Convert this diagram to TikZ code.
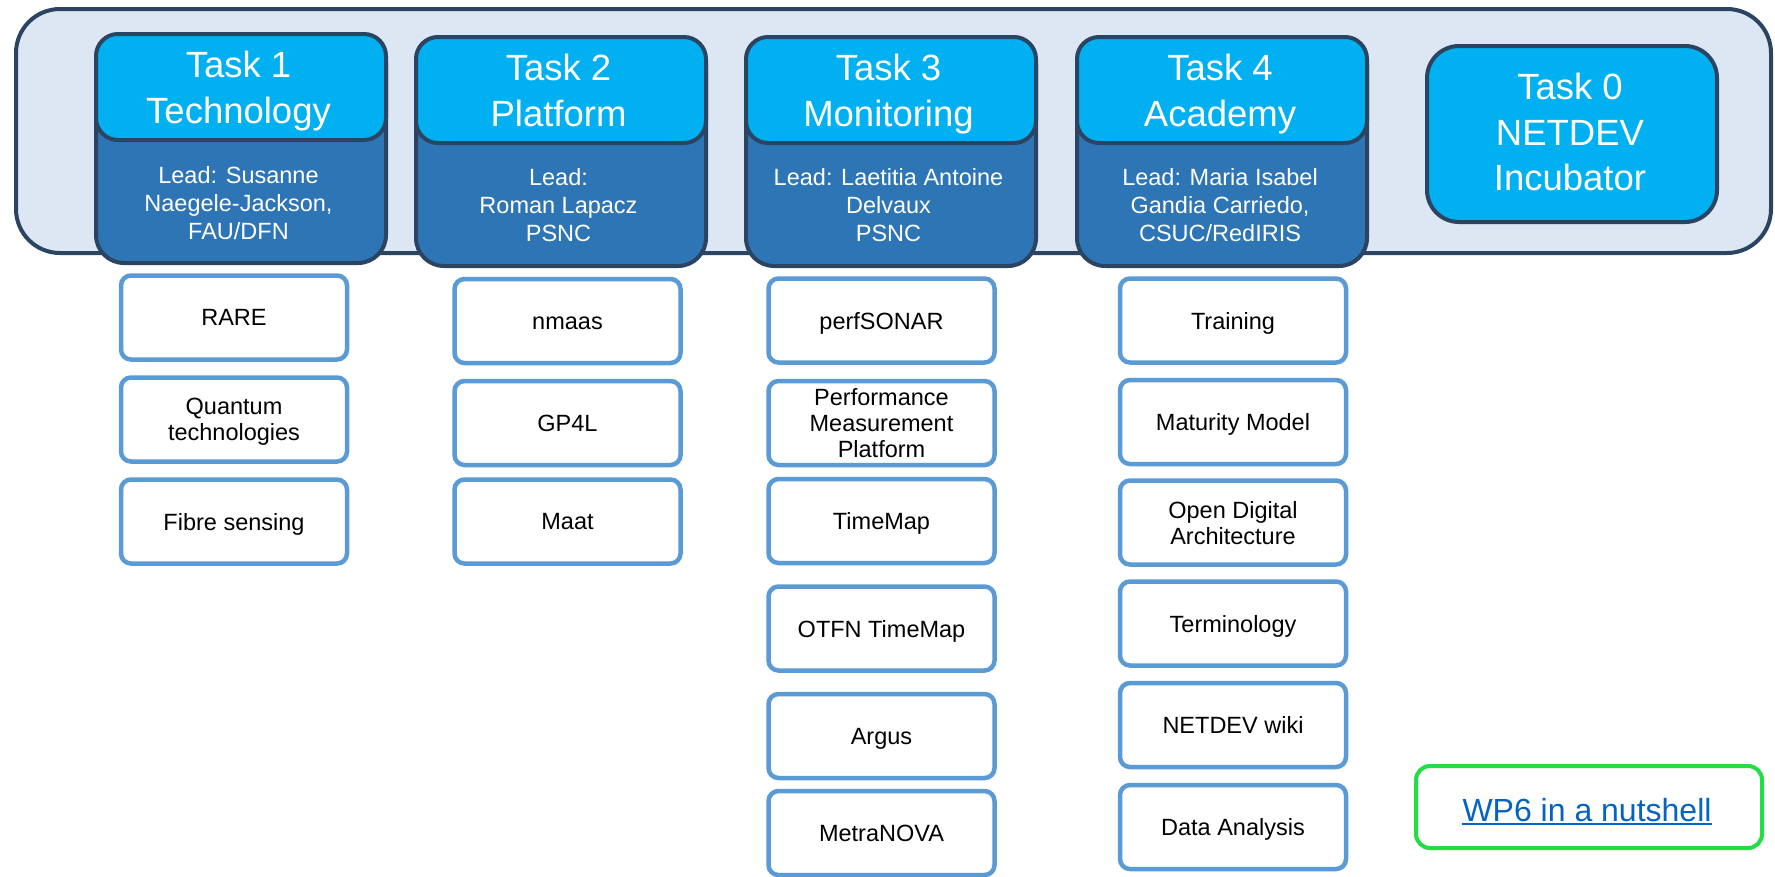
\documentclass[tikz,border=0pt]{standalone}
\usepackage{fontspec}
\setmainfont{Liberation Sans}
\definecolor{outerfill}{HTML}{DDE7F3}
\definecolor{navy}{HTML}{2A4461}
\definecolor{cyanb}{HTML}{00B0F0}
\definecolor{midb}{HTML}{2E75B6}
\definecolor{subb}{HTML}{5B9BD5}
\definecolor{greenb}{HTML}{22DD44}
\definecolor{linkb}{HTML}{0563C1}
\begin{document}
\begin{tikzpicture}[x=1pt,y=-1pt,
  outerbox/.style={draw=navy,fill=outerfill,line width=4pt,rounded corners=44pt,inner sep=0pt,anchor=north west},
  taskdark/.style={draw=navy,fill=midb,line width=4pt,rounded corners=28pt,inner sep=0pt,anchor=north west,minimum width=290pt,minimum height=229pt},
  tasklight/.style={draw=navy,fill=cyanb,line width=4pt,rounded corners=22pt,inner sep=0pt,anchor=north west,minimum width=290pt,minimum height=106pt},
  taskzero/.style={draw=navy,fill=cyanb,line width=4pt,rounded corners=32pt,inner sep=0pt,anchor=north west,minimum width=290pt,minimum height=176pt},
  headtext/.style={text=white,inner sep=0pt,align=center,text depth=0pt,font=\fontsize{36.5}{46}\selectfont,execute at begin node={\rule{0pt}{26pt}}},
  zerotext/.style={text=white,inner sep=0pt,align=center,text depth=0pt,font=\fontsize{36.5}{45.5}\selectfont,execute at begin node={\rule{0pt}{26pt}}},
  leadtext/.style={text=white,inner sep=0pt,align=center,text depth=0pt,font=\fontsize{23.5}{28}\selectfont,execute at begin node={\rule{0pt}{16.5pt}}},
  subbox/.style={draw=subb,fill=white,line width=4.5pt,rounded corners=10pt,minimum width=226pt,minimum height=84pt,inner sep=0pt,align=center,text depth=0pt,font=\fontsize{23.5}{26}\selectfont,execute at begin node={\rule{0pt}{16.5pt}}},
  linkbox/.style={draw=greenb,fill=white,line width=4pt,rounded corners=14pt,inner sep=0pt,anchor=north west,minimum width=346pt,minimum height=82pt},
  linktext/.style={text=linkb,inner sep=0pt,font=\fontsize{32}{38}\selectfont}
]
\useasboundingbox (0,0) rectangle (1775,876);
\fill[white] (0,0) rectangle (1775,876);

% outer frame
\node[outerbox,minimum width=1755pt,minimum height=244pt] (frame) at (14,7) {};

% Task 1
\node[taskdark] (t1) at (94,32) {};
\node[tasklight] (t1h) at (94,32) {};
\node[headtext] (t1t) at (238.5,87.3) {Task 1\\Technology};
\node[leadtext] (t1l) at (238.5,202.5) {Lead: Susanne\\Naegele-Jackson,\\FAU/DFN};

% Task 2
\node[taskdark] (t2) at (414,35) {};
\node[tasklight] (t2h) at (414,35) {};
\node[headtext] (t2t) at (558.5,90) {Task 2\\Platform};
\node[leadtext] (t2l) at (558.5,204.8) {Lead:\\Roman Lapacz\\PSNC};

% Task 3
\node[taskdark] (t3) at (744,35) {};
\node[tasklight] (t3h) at (744,35) {};
\node[headtext] (t3t) at (888.5,90) {Task 3\\Monitoring};
\node[leadtext] (t3l) at (888.5,204.8) {Lead: Laetitia Antoine\\Delvaux\\PSNC};

% Task 4
\node[taskdark] (t4) at (1075,35) {};
\node[tasklight] (t4h) at (1075,35) {};
\node[headtext] (t4t) at (1220,90) {Task 4\\Academy};
\node[leadtext] (t4l) at (1220,204.8) {Lead: Maria Isabel\\Gandia Carriedo,\\CSUC/RedIRIS};

% Task 0
\node[taskzero] (t0) at (1425,44) {};
\node[zerotext] (t0t) at (1570,131.8) {Task 0\\NETDEV\\Incubator};

% column 1
\node[subbox] (rare) at (234,317.5) {RARE};
\node[subbox] (quant) at (234,419.5) {Quantum\\technologies};
\node[subbox] (fibre) at (234,521.5) {Fibre sensing};

% column 2
\node[subbox] (nmaas) at (567.5,321) {nmaas};
\node[subbox] (gp4l) at (567.5,423) {GP4L};
\node[subbox] (maat) at (567.5,521.5) {Maat};

% column 3
\node[subbox] (perf) at (881.5,320.5) {perfSONAR};
\node[subbox] (pmp) at (881.5,423) {Performance\\Measurement\\Platform};
\node[subbox] (tmap) at (881.5,521) {TimeMap};
\node[subbox] (otfn) at (881.5,628.5) {OTFN TimeMap};
\node[subbox] (argus) at (881.5,736) {Argus};
\node[subbox] (metra) at (881.5,833) {MetraNOVA};

% column 4
\node[subbox] (train) at (1233,320.5) {Training};
\node[subbox] (matur) at (1233,422) {Maturity Model};
\node[subbox] (oda) at (1233,522.5) {Open Digital\\Architecture};
\node[subbox] (term) at (1233,623.5) {Terminology};
\node[subbox] (wiki) at (1233,725) {NETDEV wiki};
\node[subbox] (data) at (1233,827) {Data Analysis};

% link box
\node[linkbox] (wp) at (1414,764) {};
\node[linktext,anchor=base] (wpt) at (1587,821) {WP6 in a nutshell};
\draw[linkb,line width=2pt] ([yshift=-3pt]wpt.base west) -- ([yshift=-3pt]wpt.base east);
\end{tikzpicture}
\end{document}
